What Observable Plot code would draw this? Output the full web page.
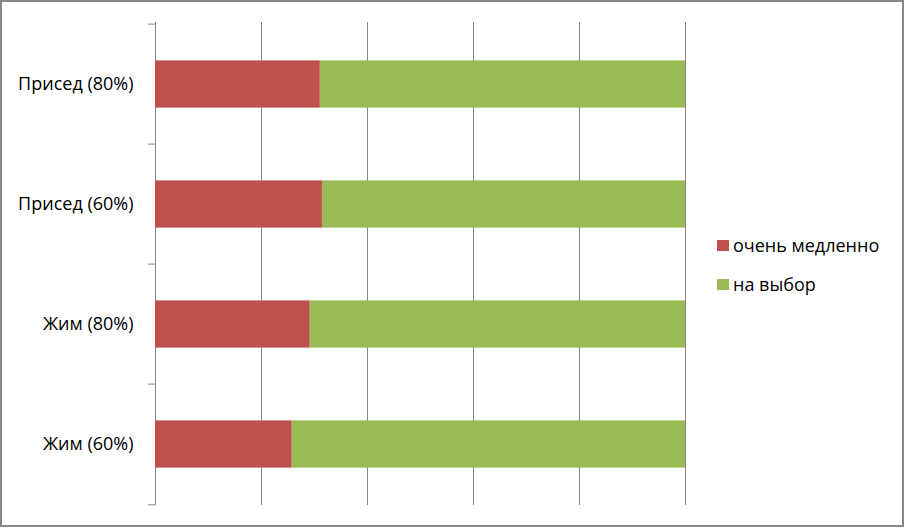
<!DOCTYPE html>
<html>
<head>
<meta charset="utf-8">
<script src="https://cdn.jsdelivr.net/npm/d3@7"></script>
<script src="https://cdn.jsdelivr.net/npm/@observablehq/plot@0.6"></script>
<style>
  body { margin: 0; background: #fff; }
  #wrap { position: relative; width: 904px; height: 528px; font-family: "Open Sans", sans-serif; }
  #wrap svg { display: block; }
  #border { position: absolute; left: 0; top: 0; width: 900px; height: 523px; border: 2px solid #868686; pointer-events: none; }
  #legend { position: absolute; left: 717px; top: 233px; font-size: 18px; line-height: 24px; color: #000; }
  #legend .item { display: flex; align-items: center; height: 24px; margin-bottom: 15px; }
  #legend .sw { width: 12px; height: 11px; margin-right: 4px; }
</style>
</head>
<body>
<div id="wrap">
  <div id="chart"></div>
  <div id="legend"></div>
  <div id="border"></div>
</div>
<script>
const categories = ["Присед (80%)", "Присед (60%)", "Жим (80%)", "Жим (60%)"];
const seriesNames = ["очень медленно", "на выбор"];
const slowValues = [31.1, 31.5, 29.2, 25.8];
const choiceValues = [68.9, 68.5, 70.8, 74.2];
const colors = ["#C0504D", "#9BBB59"];
const gridTicks = [0, 20, 40, 60, 80, 100];

const data = [];
categories.forEach((c, i) => {
  data.push({cat: c, series: seriesNames[0], value: slowValues[i]});
  data.push({cat: c, series: seriesNames[1], value: choiceValues[i]});
});

const W = 904, H = 528, mL = 155, mR = 219, mT = 22, mB = 23;
const step = (H - mT - mB) / categories.length;
const tickLen = 7 * 100 / (W - mL - mR);

const chart = Plot.plot({
  width: W, height: H,
  marginLeft: mL, marginRight: mR, marginTop: mT, marginBottom: mB,
  style: {fontFamily: "'Open Sans', sans-serif", fontSize: "18px", color: "#000", background: "#fff"},
  x: {domain: [0, 100], axis: null},
  y: {domain: categories, padding: 0, axis: null},
  color: {domain: seriesNames, range: colors},
  marks: [
    Plot.ruleX(gridTicks, {stroke: "#868686", strokeWidth: 1, strokeOpacity: 1}),
    Plot.barX(data, Plot.stackX({x: "value", y: "cat", fill: "series", order: seriesNames, insetTop: (step - 48) / 2, insetBottom: (step - 48) / 2})),
    Plot.ruleY(categories, {y: d => d, x1: -tickLen, x2: 0, dy: -step / 2, stroke: "#868686"}),
    Plot.ruleY([categories[categories.length - 1]], {y: d => d, x1: -tickLen, x2: 0, dy: step / 2, stroke: "#868686"}),
    Plot.axisY({tickSize: 0, tickPadding: 22, label: null, fontSize: 18})
  ]
});
document.getElementById("chart").appendChild(chart);

const legend = document.getElementById("legend");
seriesNames.forEach((s, i) => {
  const item = document.createElement("div");
  item.className = "item";
  const sw = document.createElement("span");
  sw.className = "sw";
  sw.style.background = colors[i];
  const t = document.createElement("span");
  t.textContent = s;
  item.appendChild(sw); item.appendChild(t);
  legend.appendChild(item);
});
</script>
</body>
</html>
